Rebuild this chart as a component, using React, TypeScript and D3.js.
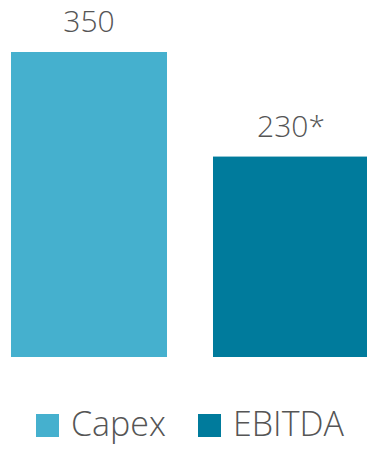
import React from "react";
import * as d3 from "d3";

const categories = ["Capex", "EBITDA"];
const values = [350, 230];
const valueLabels = ["350", "230*"];
const colors = ["#45B0CE", "#007B9C"];

export default function App() {
  const width = 367;
  const height = 449;
  const x = d3.scaleBand<string>().domain(categories).range([11, 369]).paddingInner(0.2277).paddingOuter(0);
  const y = d3.scaleLinear().domain([0, 350]).range([357, 52]);
  const font = "'Open Sans', 'Segoe UI', sans-serif";
  const legendX = [36, 198];
  return (
    <svg width={width} height={height} style={{ position: "absolute", left: 0, top: 0, display: "block" }}>
      {categories.map((c, i) => (
        <g key={c}>
          <rect x={x(c)} y={y(values[i])} width={x.bandwidth()} height={y(0) - y(values[i])} fill={colors[i]} />
          <text
            x={(x(c) as number) + 78}
            y={y(values[i]) - 20}
            textAnchor="middle"
            fontFamily={font}
            fontWeight={300}
            fontSize={30}
            fill="#555"
          >
            {valueLabels[i]}
          </text>
        </g>
      ))}
      {categories.map((c, i) => (
        <g key={"l" + c} transform={`translate(${legendX[i]},414)`}>
          <rect x={0} y={0} width={23} height={23} fill={colors[i]} />
          <text x={35} y={22} fontFamily={font} fontWeight={300} fontSize={34} fill="#555">
            {c}
          </text>
        </g>
      ))}
    </svg>
  );
}
